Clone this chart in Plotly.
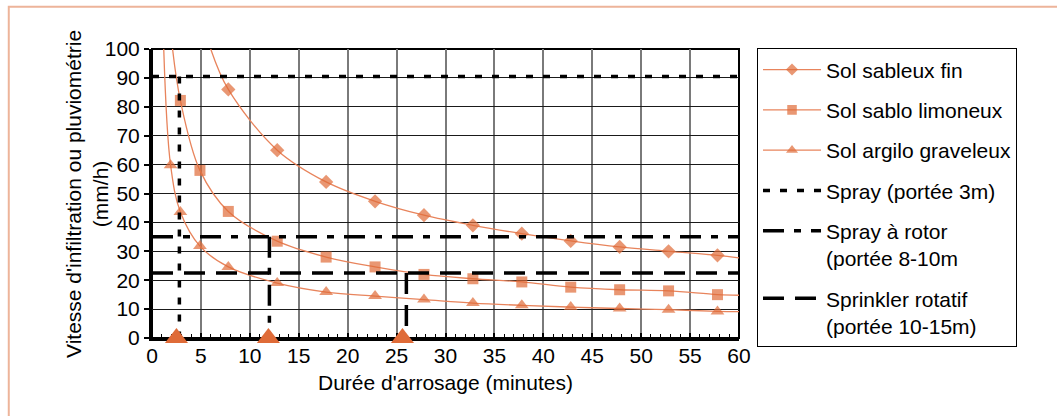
import plotly.graph_objects as go

# ---- data ----
duree = [1.9, 2.9, 4.9, 7.8, 12.8, 17.8, 22.8, 27.8, 32.8, 37.8, 42.8, 47.8, 52.8, 57.8]
sableux_fin = [None, None, None, 86, 65, 54, 47.3, 42.5, 39, 36.1, 33.6, 31.5, 30, 28.6]
sablo_limoneux = [None, 82.2, 58, 43.8, 33.5, 28, 24.6, 22, 20.5, 19.4, 17.6, 16.7, 16.3, 15.0]
argilo_graveleux = [59.8, 43.6, 31.8, 24.6, 19.0, 15.9, 14.5, 13.3, 12.1, 11.3, 10.7, 10.2, 9.8, 9.2]

# trend curve ends: x where curve leaves y=100, y at x=60
trend_start_x = [6.0, 2.1, 1.2]
trend_end_y = [27.7, 14.8, 9.1]
y_top = 100
x_end = 60

# sprinkler rates (mm/h) and durations (minutes)
spray_rate, rotor_rate, sprinkler_rate = 90.5, 35, 22.5
spray_t, rotor_t, sprinkler_t = 2.8, 12.0, 26.0
marker_t = [2.5, 11.9, 25.6]
marker_y = [0, 0, 0]

names = ["Sol sableux fin", "Sol sablo limoneux", "Sol argilo graveleux"]
symbols = ["diamond", "square", "triangle-up"]
sizes = [11, 11, 12]
series = [sableux_fin, sablo_limoneux, argilo_graveleux]

MC = "#DF6B38"
LC = "#E8845C"
FONT = "Liberation Sans, Arial, sans-serif"

fig = go.Figure()

for i, (nm, sym, sz, ys) in enumerate(zip(names, symbols, sizes, series)):
    px = [trend_start_x[i]]
    py = [y_top]
    ms = [0]
    for xv, yv in zip(duree, ys):
        if yv is None:
            continue
        px.append(xv)
        py.append(yv)
        ms.append(sz)
    px.append(x_end)
    py.append(trend_end_y[i])
    ms.append(0)
    fig.add_trace(go.Scatter(
        x=px, y=py, name=nm, mode="lines+markers",
        line=dict(color=LC, width=1.3, shape="spline", smoothing=1.0),
        marker=dict(symbol=sym, size=ms, color=MC, line=dict(width=0)),
        legendgroup=nm,
    ))

def ref_line(name, rate, t, dash):
    fig.add_trace(go.Scatter(
        x=[0, x_end, None, t, t], y=[rate, rate, None, rate, 0],
        name=name, mode="lines",
        line=dict(color="black", width=3.5, dash=dash),
        legendgroup=name,
    ))

ref_line("Spray (portée 3m)", spray_rate, spray_t, "7px,10px")
ref_line("Spray à rotor<br>(portée 8-10m", rotor_rate, rotor_t, "21px,10px,7px,10px")
ref_line("Sprinkler rotatif<br>(portée 10-15m)", sprinkler_rate, sprinkler_t, "21px,11px")

fig.add_trace(go.Scatter(
    x=marker_t, y=marker_y, mode="markers", showlegend=False,
    marker=dict(symbol="triangle-up", size=20, color=MC, line=dict(width=0)),
    cliponaxis=False,
))

fig.update_layout(
    width=1057, height=416,
    margin=dict(l=152, r=318, t=49, b=78),
    paper_bgcolor="white", plot_bgcolor="white",
    font=dict(family=FONT, size=21, color="black"),
    showlegend=True,
    legend=dict(
        x=1.0307, y=1.002, xanchor="left", yanchor="top",
        bordercolor="black", borderwidth=1, bgcolor="white",
        font=dict(family=FONT, size=21, color="black"),
        tracegroupgap=10, itemwidth=58, valign="top", maxheight=400,
    ),
    shapes=[
        dict(type="rect", xref="paper", yref="paper", x0=-0.244, x1=1.58, y0=-0.32, y1=1.146,
             line=dict(color="#EDB49A", width=2), layer="below"),
        dict(type="rect", xref="paper", yref="paper", x0=0, x1=1, y0=0, y1=1,
             line=dict(color="black", width=2), layer="between"),
    ],
    annotations=[
        dict(text="Vitesse d'infiltration ou pluviométrie<br>(mm/h)", xref="paper", yref="paper",
             x=-0.1116, y=0.5, xanchor="center", yanchor="middle", textangle=-90,
             showarrow=False, font=dict(family=FONT, size=21, color="black")),
    ],
)

fig.update_xaxes(
    range=[0, 60], dtick=5, tick0=0, automargin=False,
    showline=True, linecolor="black", linewidth=3,
    showgrid=True, gridcolor="#7a7a7a", gridwidth=1.6,
    ticks="inside", ticklen=5, tickcolor="black", tickwidth=1.5,
    minor=dict(dtick=1, ticks="inside", ticklen=4, tickcolor="black", tickwidth=1, showgrid=False),
    zeroline=False, layer="below traces",
    tickfont=dict(size=21), ticklabelstandoff=-3,
    title=dict(text="Durée d'arrosage (minutes)", font=dict(size=21), standoff=10),
)
fig.update_yaxes(
    range=[0, 100], dtick=10, tick0=0, automargin=False,
    showline=True, linecolor="black", linewidth=3,
    showgrid=True, gridcolor="#1a1a1a", gridwidth=1.2,
    ticks="outside", ticklen=5, tickcolor="black", tickwidth=1.5,
    zeroline=False, layer="below traces",
    tickfont=dict(size=21),
)

fig.write_html("out.html", config={"displayModeBar": False},
               post_script="document.body.style.margin='0';")
